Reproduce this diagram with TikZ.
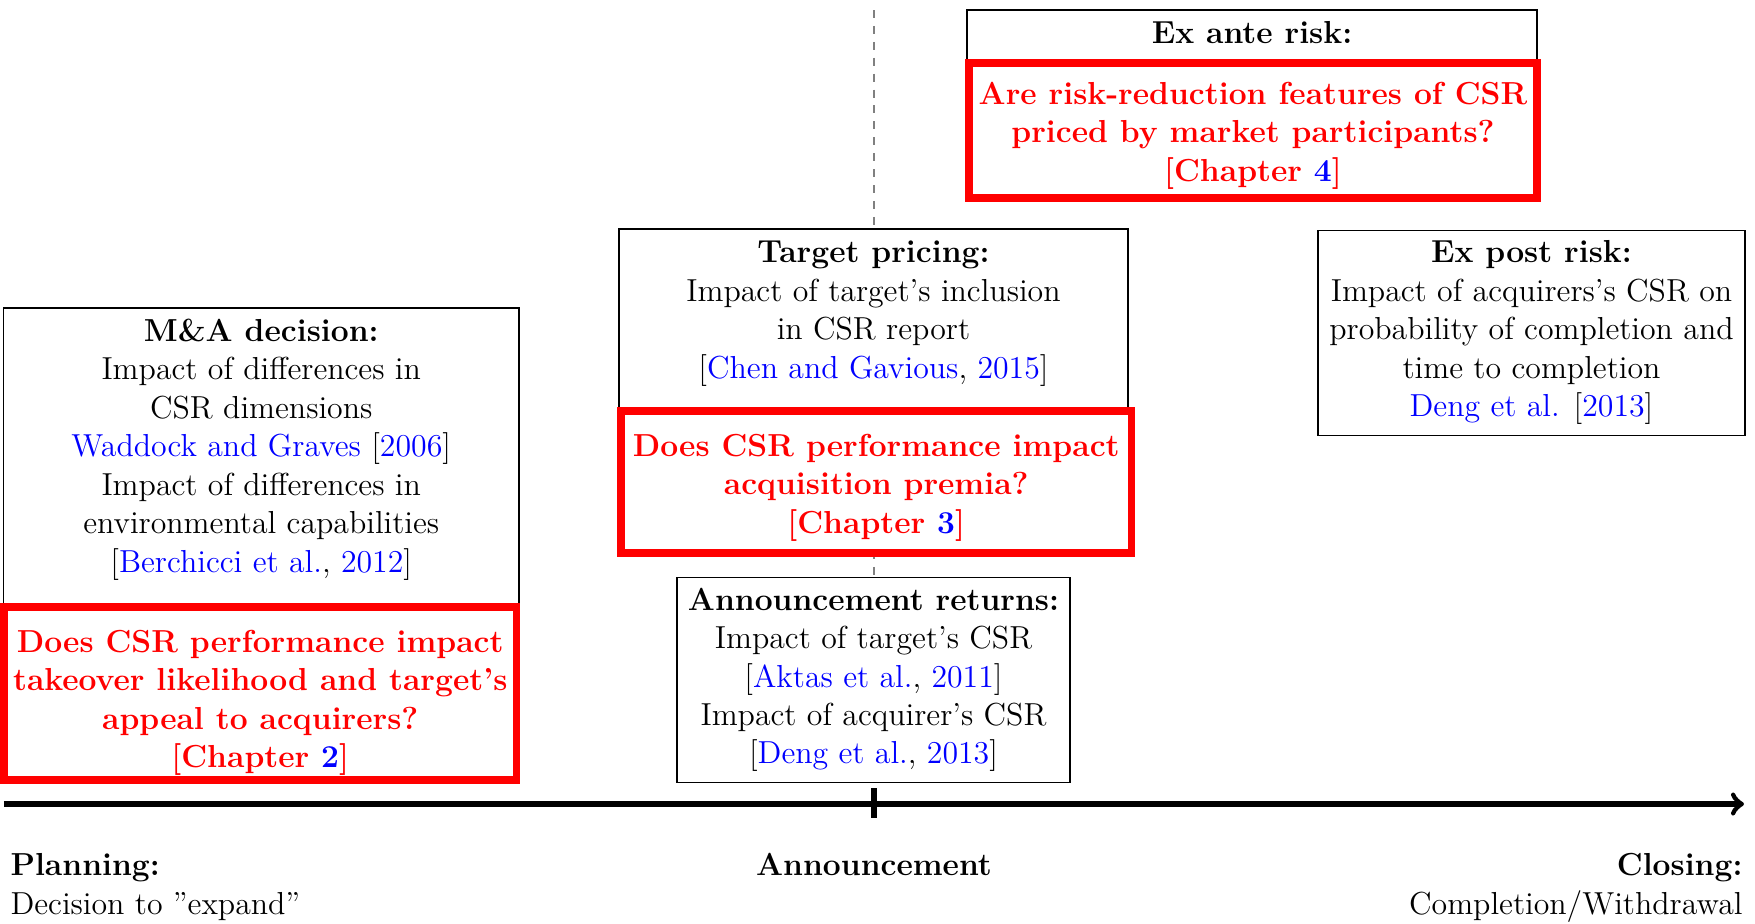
\documentclass[tikz,border=0pt,12pt]{standalone}
\newcommand{\upstrut}[1]{\rule{0pt}{#1}}
\newcommand{\dnstrut}[1]{\rule[-#1]{0pt}{#1}}
\newcommand{\bluetxt}[1]{\textcolor{blue}{#1}}
\tikzset{
  plainbox/.style={draw=black, line width=0.4pt, fill=white, align=center, inner sep=0pt},
  redbox/.style={draw=red, line width=3pt, fill=white, align=center, inner sep=0pt, text=red, font=\bfseries},
  axisline/.style={line width=2pt},
  guide/.style={draw=gray, dashed, line width=0.6pt},
  lbl/.style={inner sep=0pt}
}
\begin{document}
\begin{tikzpicture}[x=0.3771pt, y=-0.3771pt]
\useasboundingbox (0,0) rectangle (1755,923);
% coordinates
\coordinate (dashT) at (874,10);
\coordinate (axM) at (874,804);
\coordinate (axL) at (4,804);
\coordinate (axR) at (1744,804);
\coordinate (tickT) at (874,788);
\coordinate (tickB) at (874,818);
% guide line
\draw[guide] (dashT) -- (axM);
% black boxes
\node[plainbox, minimum width=194.39pt, minimum height=112.75pt] (madec) at (261.25,457.5)
  {\textbf{M\&A decision:}\\Impact of differences in\\CSR dimensions\\\bluetxt{Waddock and Graves} [\bluetxt{2006}]\\Impact of differences in\\environmental capabilities\\{[}\bluetxt{Berchicci et al.}, \bluetxt{2012}]\dnstrut{9.1pt}};
\node[plainbox, minimum width=191.94pt, minimum height=68.63pt] (tprice) at (873.5,320)
  {\textbf{Target pricing:}\\Impact of target's inclusion\\in CSR report\\{[}\bluetxt{Chen and Gavious}, \bluetxt{2015}]\dnstrut{7.7pt}};
\node[plainbox, minimum width=214.95pt, minimum height=19.99pt] (exante) at (1252,36.5)
  {\textbf{Ex ante risk:}\dnstrut{3pt}};
% red question boxes
\node[redbox, minimum width=193.26pt, minimum height=65.24pt] (madecq) at (260.25,693.5)
  {\upstrut{15.5pt}Does CSR performance impact\\takeover likelihood and target's\\appeal to acquirers?\\{[}Chapter \bluetxt{2}]};
\node[redbox, minimum width=192.51pt, minimum height=53.55pt] (tpriceq) at (876.25,482)
  {\upstrut{12.7pt}Does CSR performance impact\\acquisition premia?\\{[}Chapter \bluetxt{3}]};
\node[redbox, minimum width=214.19pt, minimum height=50.68pt] (exanteq) at (1253,130.5)
  {\upstrut{12.4pt}Are risk-reduction features of CSR\\priced by market participants?\\{[}Chapter \bluetxt{4}]};
% other boxes
\node[plainbox, minimum width=148.2pt, minimum height=77.04pt] (annret) at (873.5,679.9)
  {\textbf{Announcement returns:}\\Impact of target's CSR\\{[}\bluetxt{Aktas et al.}, \bluetxt{2011}]\\Impact of acquirer's CSR\\{[}\bluetxt{Deng et al.}, \bluetxt{2013}]};
\node[plainbox, minimum width=161.02pt, minimum height=77.31pt] (expost) at (1531.5,332.8)
  {\textbf{Ex post risk:}\\Impact of acquirers's CSR on\\probability of completion and\\time to completion\\\bluetxt{Deng et al.} [\bluetxt{2013}]};
% time axis
\draw[axisline, ->] (axL) -- (axR);
\draw[axisline] (tickT) -- (tickB);
% labels
\node[lbl, anchor=north west, align=left] (lblplan) at (10,853) {\textbf{Planning:}\\Decision to ''expand''};
\node[lbl, anchor=base, font=\bfseries] (lblann) at (874,875) {Announcement};
\node[lbl, anchor=north east, align=right] (lblclose) at (1743,853) {\textbf{Closing:}\\Completion/Withdrawal};
\end{tikzpicture}
\end{document}
